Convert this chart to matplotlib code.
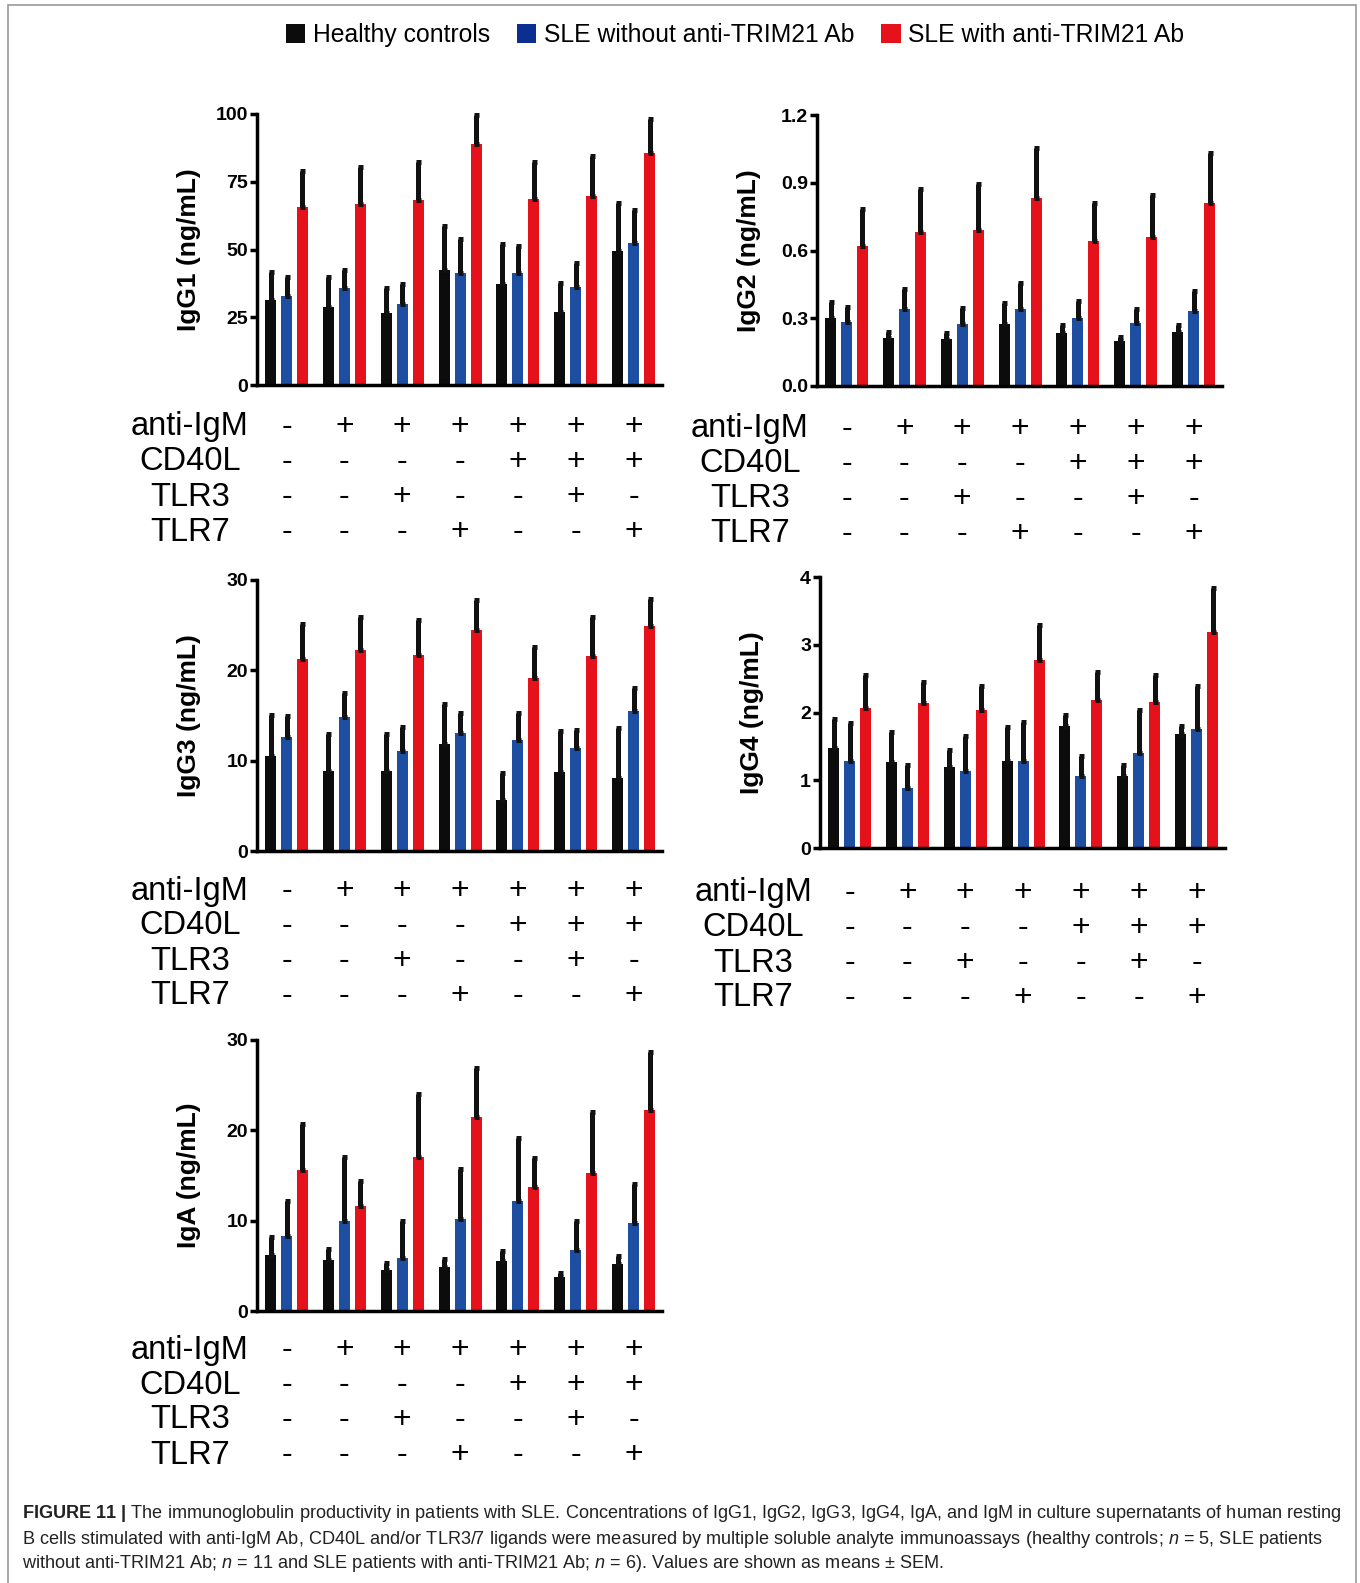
import numpy as np
import matplotlib
matplotlib.use("Agg")
import matplotlib.pyplot as plt
from matplotlib.patches import Patch, Rectangle
from matplotlib.transforms import blended_transform_factory

plt.rcParams['font.family'] = ['Liberation Sans', 'DejaVu Sans']
plt.rcParams['mathtext.fontset'] = 'custom'
plt.rcParams['mathtext.rm'] = 'Liberation Sans'
plt.rcParams['mathtext.it'] = 'Liberation Sans:italic'
plt.rcParams['mathtext.bf'] = 'Liberation Sans:bold'

# group labels and stimulation conditions (7 culture conditions)
groups = ["Healthy controls", "SLE without anti-TRIM21 Ab", "SLE with anti-TRIM21 Ab"]
colors = ["#0c0c0c", "#1d4ea2", "#e5121b"]
legend_colors = ["#0c0c0c", "#0b2f91", "#e5121b"]

row_names = ["anti-IgM", "CD40L", "TLR3", "TLR7"]
anti_igm = ['-', '+', '+', '+', '+', '+', '+']
cd40l    = ['-', '-', '-', '-', '+', '+', '+']
tlr3     = ['-', '-', '+', '-', '-', '+', '-']
tlr7     = ['-', '-', '-', '+', '-', '-', '+']

# means and SEM per group, one list per condition order
igg1_hc      = [31.4, 28.9, 26.4, 42.4, 37.3, 27.1, 49.4]
igg1_hc_sem  = [10.4, 11.1, 9.5, 16.3, 14.7, 10.4, 17.9]
igg1_neg     = [32.8, 35.7, 29.9, 41.5, 41.2, 36.3, 52.5]
igg1_neg_sem = [7.2, 6.7, 7.2, 12.4, 10.2, 8.6, 12.1]
igg1_pos     = [65.8, 66.8, 68.3, 88.9, 68.5, 69.7, 85.7]
igg1_pos_sem = [13.2, 13.8, 14.1, 10.7, 13.7, 14.8, 12.3]

igg2_hc      = [0.300, 0.214, 0.207, 0.275, 0.233, 0.199, 0.238]
igg2_hc_sem  = [0.073, 0.026, 0.026, 0.094, 0.037, 0.016, 0.032]
igg2_neg     = [0.285, 0.339, 0.273, 0.341, 0.303, 0.280, 0.334]
igg2_neg_sem = [0.066, 0.091, 0.074, 0.114, 0.075, 0.059, 0.087]
igg2_pos     = [0.621, 0.683, 0.691, 0.834, 0.644, 0.661, 0.809]
igg2_pos_sem = [0.163, 0.188, 0.202, 0.218, 0.165, 0.185, 0.224]

igg3_hc      = [10.5, 8.9, 8.9, 11.8, 5.6, 8.8, 8.1]
igg3_hc_sem  = [4.6, 4.0, 4.1, 4.5, 3.0, 4.5, 5.5]
igg3_neg     = [12.6, 14.85, 11.1, 13.1, 12.3, 11.4, 15.5]
igg3_neg_sem = [2.4, 2.65, 2.6, 2.2, 3.0, 2.0, 2.5]
igg3_pos     = [21.2, 22.2, 21.7, 24.5, 19.2, 21.6, 24.9]
igg3_pos_sem = [3.9, 3.7, 3.9, 3.3, 3.4, 4.3, 3.0]

igg4_hc      = [1.47, 1.27, 1.19, 1.28, 1.80, 1.06, 1.68]
igg4_hc_sem  = [0.44, 0.44, 0.26, 0.50, 0.17, 0.16, 0.12]
igg4_neg     = [1.29, 0.89, 1.14, 1.28, 1.07, 1.40, 1.76]
igg4_neg_sem = [0.56, 0.34, 0.51, 0.58, 0.29, 0.63, 0.63]
igg4_pos     = [2.06, 2.14, 2.03, 2.78, 2.19, 2.15, 3.19]
igg4_pos_sem = [0.49, 0.31, 0.36, 0.51, 0.41, 0.40, 0.65]

iga_hc      = [6.2, 5.7, 4.5, 4.9, 5.5, 3.8, 5.2]
iga_hc_sem  = [2.0, 1.2, 0.8, 0.9, 1.1, 0.4, 0.9]
iga_neg     = [8.3, 10.0, 5.9, 10.2, 12.2, 6.8, 9.75]
iga_neg_sem = [3.9, 7.1, 4.1, 5.5, 7.0, 3.2, 4.35]
iga_pos     = [15.6, 11.6, 17.0, 21.5, 13.7, 15.3, 22.2]
iga_pos_sem = [5.1, 2.8, 7.0, 5.4, 3.2, 6.7, 6.5]

W, H = 1360, 1583
fig = plt.figure(figsize=(W / 100, H / 100), dpi=100)

# panel: ylabel, series, ticks, (left, top, bottom, table shift) in pixels
panels = [
    ("IgG1 (ng/mL)", [(igg1_hc, igg1_hc_sem), (igg1_neg, igg1_neg_sem), (igg1_pos, igg1_pos_sem)],
     [0, 25, 50, 75, 100], ["0", "25", "50", "75", "100"], (257, 114, 385, 2)),
    ("IgG2 (ng/mL)", [(igg2_hc, igg2_hc_sem), (igg2_neg, igg2_neg_sem), (igg2_pos, igg2_pos_sem)],
     [0, 0.3, 0.6, 0.9, 1.2], ["0.0", "0.3", "0.6", "0.9", "1.2"], (817, 115, 386, 3)),
    ("IgG3 (ng/mL)", [(igg3_hc, igg3_hc_sem), (igg3_neg, igg3_neg_sem), (igg3_pos, igg3_pos_sem)],
     [0, 10, 20, 30], ["0", "10", "20", "30"], (257, 580, 851, 0)),
    ("IgG4 (ng/mL)", [(igg4_hc, igg4_hc_sem), (igg4_neg, igg4_neg_sem), (igg4_pos, igg4_pos_sem)],
     [0, 1, 2, 3, 4], ["0", "1", "2", "3", "4"], (820, 577, 848, 5)),
    ("IgA (ng/mL)", [(iga_hc, iga_hc_sem), (iga_neg, iga_neg_sem), (iga_pos, iga_pos_sem)],
     [0, 10, 20, 30], ["0", "10", "20", "30"], (257, 1040, 1311, -1)),
]

AX_W = 405
bar_w = 0.19
pitch = 0.276
x = np.arange(len(anti_igm))
table_rows = [anti_igm, cd40l, tlr3, tlr7]
row_offsets = [40, 75, 110, 145]

for ylabel, series, ticks, ticklabels, (left, top, bottom, shift) in panels:
    ax = fig.add_axes([left / W, 1 - bottom / H, AX_W / W, (bottom - top) / H])
    for i, (vals, sem) in enumerate(series):
        pos = x + (i - 1) * pitch
        ax.bar(pos, vals, width=bar_w, color=colors[i], zorder=2)
        ax.errorbar(pos, vals, yerr=[np.zeros(len(vals)), sem], fmt='none',
                    ecolor='#111111', elinewidth=3.6, capsize=1.8, capthick=3.6,
                    zorder=3, clip_on=False)
    ax.set_xlim(-0.51, 6.49)
    ax.set_ylim(ticks[0], ticks[-1])
    ax.set_yticks(ticks)
    ax.set_yticklabels(ticklabels, fontweight='bold')
    ax.set_xticks([])
    for s in ['top', 'right']:
        ax.spines[s].set_visible(False)
    for s in ['left', 'bottom']:
        ax.spines[s].set_linewidth(2.5)
    ax.tick_params(axis='y', length=5, width=2.5, pad=1.5, labelsize=14)
    ax.set_ylabel(ylabel, fontsize=19, fontweight='bold', va='center')
    ax.yaxis.set_label_coords(-68 / AX_W, 0.5)

    # stimulation table under the bars
    tr = blended_transform_factory(ax.transData, fig.transFigure)
    for name, signs, off in zip(row_names, table_rows, row_offsets):
        y = 1 - (bottom + off + shift) / H
        fig.text((left - 67) / W, y, name, ha='center', va='center', fontsize=23.5)
        for xi, s in zip(x, signs):
            ax.text(xi, y, s, transform=tr, ha='center', va='center', fontsize=23)

handles = [Patch(facecolor=c, edgecolor='none') for c in legend_colors]
fig.legend(handles, groups, loc='center', bbox_to_anchor=(735 / W, 1 - 35 / H), ncol=3,
           frameon=False, fontsize=17.8, handlelength=0.78, handleheight=0.78,
           handletextpad=0.3, columnspacing=1.1)

caption = [
    r"$\mathbf{FIGURE\ 11\ |}$ The immunoglobulin productivity in patients with SLE. Concentrations of IgG1, IgG2, IgG3, IgG4, IgA, and IgM in culture supernatants of human resting",
    r"B cells stimulated with anti-IgM Ab, CD40L and/or TLR3/7 ligands were measured by multiple soluble analyte immunoassays (healthy controls; $n$ = 5, SLE patients",
    r"without anti-TRIM21 Ab; $n$ = 11 and SLE patients with anti-TRIM21 Ab; $n$ = 6). Values are shown as means ± SEM.",
]
for k, line in enumerate(caption):
    fig.text(22 / W, 1 - (1514 + 25 * k) / H, line, ha='left', va='center',
             fontsize=13.05, color='#222222')

# thin border round the figure
fig.patches.append(Rectangle((8 / W, -0.01), (1356 - 8) / W, (H - 5) / H + 0.01,
                             transform=fig.transFigure, fill=False,
                             edgecolor='#9a9a9a', linewidth=1.2))

fig.savefig("out.png", dpi=100)
